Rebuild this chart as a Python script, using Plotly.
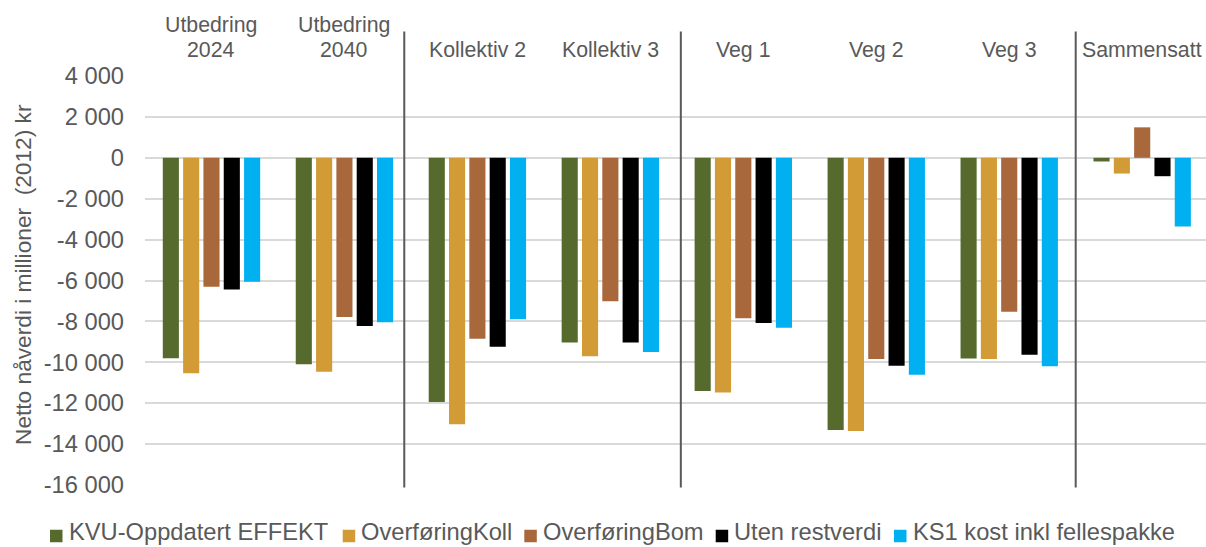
import plotly.graph_objects as go

# ---- data ----
categories = ["Utbedring 2024", "Utbedring 2040", "Kollektiv 2", "Kollektiv 3",
              "Veg 1", "Veg 2", "Veg 3", "Sammensatt"]
category_labels = ["Utbedring<br>2024", "Utbedring<br>2040", "Kollektiv 2", "Kollektiv 3",
                   "Veg 1", "Veg 2", "Veg 3", "Sammensatt"]
series_names = ["KVU-Oppdatert EFFEKT", "OverføringKoll", "OverføringBom",
                "Uten restverdi", "KS1 kost inkl fellespakke"]
kvu_effekt = [-9800, -10090, -11940, -9030, -11400, -13310, -9810, -180]
overforing_koll = [-10540, -10460, -13030, -9700, -11480, -13360, -9840, -770]
overforing_bom = [-6310, -7780, -8850, -7010, -7850, -9840, -7530, 1490]
uten_restverdi = [-6440, -8230, -9240, -9030, -8080, -10170, -9630, -900]
ks1_kost = [-6060, -8040, -7890, -9500, -8310, -10610, -10190, -3360]
y_tick_vals = [4000, 2000, 0, -2000, -4000, -6000, -8000, -10000, -12000, -14000, -16000]
y_tick_text = ["4 000", "2 000", "0", "-2 000", "-4 000", "-6 000", "-8 000",
               "-10 000", "-12 000", "-14 000", "-16 000"]
y_title = "Netto nåverdi i millioner \u00a0(2012) kr"

# ---- styles / layout constants ----
colors = ["#566A2E", "#D39B36", "#A8683C", "#000000", "#00B0F0"]
text_color = "#595959"
font_family = "Arial, Liberation Sans, sans-serif"
W, H = 1206, 547
ML, MT, MB = 145, 76, 62
PLOT_W = W - ML
PLOT_H = H - MT - MB
divider_pos = [1.45, 3.53, 6.5]
legend_x_px = [50, 342.7, 524.3, 715.7, 894]
legend_y_px = 536
marker_px = 12.5
cat_font = 21.3
cat_line_gap = 25
title_center_px = (22.5, 274.5)

series_values = [kvu_effekt, overforing_koll, overforing_bom, uten_restverdi, ks1_kost]

fig = go.Figure()
for name, vals, col in zip(series_names, series_values, colors):
    fig.add_trace(go.Bar(x=categories, y=vals, name=name, marker_color=col,
                         marker_line_width=0, showlegend=False))

def px_to_paper_x(px):
    return (px - ML) / PLOT_W

def px_to_paper_y(py):
    return (H - MB - py) / PLOT_H

shapes = []
for d in divider_pos:
    shapes.append(dict(type="line", xref="x", yref="paper", x0=d, x1=d,
                       y0=px_to_paper_y(487.5), y1=px_to_paper_y(31.5),
                       line=dict(color=text_color, width=2)))

annotations = []
for cat, lab in zip(categories, category_labels):
    lines = lab.split("<br>")
    n = len(lines)
    for i, line in enumerate(lines):
        annotations.append(dict(x=cat, xref="x", y=1.029, yref="paper", text=line,
                                showarrow=False, yanchor="bottom", xanchor="center",
                                yshift=(n - 1 - i) * cat_line_gap,
                                font=dict(size=cat_font, color=text_color, family=font_family)))

for name, col, lx in zip(series_names, colors, legend_x_px):
    shapes.append(dict(type="rect", xref="paper", yref="paper",
                       x0=px_to_paper_x(lx), x1=px_to_paper_x(lx + marker_px),
                       y0=px_to_paper_y(legend_y_px + marker_px / 2),
                       y1=px_to_paper_y(legend_y_px - marker_px / 2),
                       fillcolor=col, line=dict(width=0)))
    annotations.append(dict(x=px_to_paper_x(lx + marker_px + 4), xref="paper",
                            y=px_to_paper_y(H - 0.5), yref="paper", text=name,
                            showarrow=False, xanchor="left", yanchor="bottom",
                            font=dict(size=23.7, color=text_color, family=font_family)))

# y-axis title
annotations.append(dict(x=px_to_paper_x(title_center_px[0]), xref="paper",
                        y=px_to_paper_y(title_center_px[1]), yref="paper",
                        text=y_title, textangle=-90, showarrow=False,
                        xanchor="center", yanchor="middle",
                        font=dict(size=22.7, color=text_color, family=font_family)))

fig.update_layout(
    width=W, height=H,
    margin=dict(l=ML, r=0, t=MT, b=MB, autoexpand=False),
    paper_bgcolor="white", plot_bgcolor="white",
    barmode="group", bargap=0.236, bargroupgap=0.207,
    font=dict(family=font_family, color=text_color),
    shapes=shapes, annotations=annotations,
    xaxis=dict(categoryorder="array", categoryarray=categories,
               range=[-0.5, 7.48], showticklabels=False, showgrid=False,
               zeroline=False, showline=False, ticks=""),
    yaxis=dict(range=[-16000, 4000], tickvals=y_tick_vals, ticktext=y_tick_text,
               showgrid=True, gridcolor="#D9D9D9", gridwidth=1.5,
               zeroline=False, showline=False, ticks="",
               ticklabelstandoff=20,
               tickfont=dict(size=23.7, color=text_color, family=font_family)),
)

fig.write_html("out.html")
